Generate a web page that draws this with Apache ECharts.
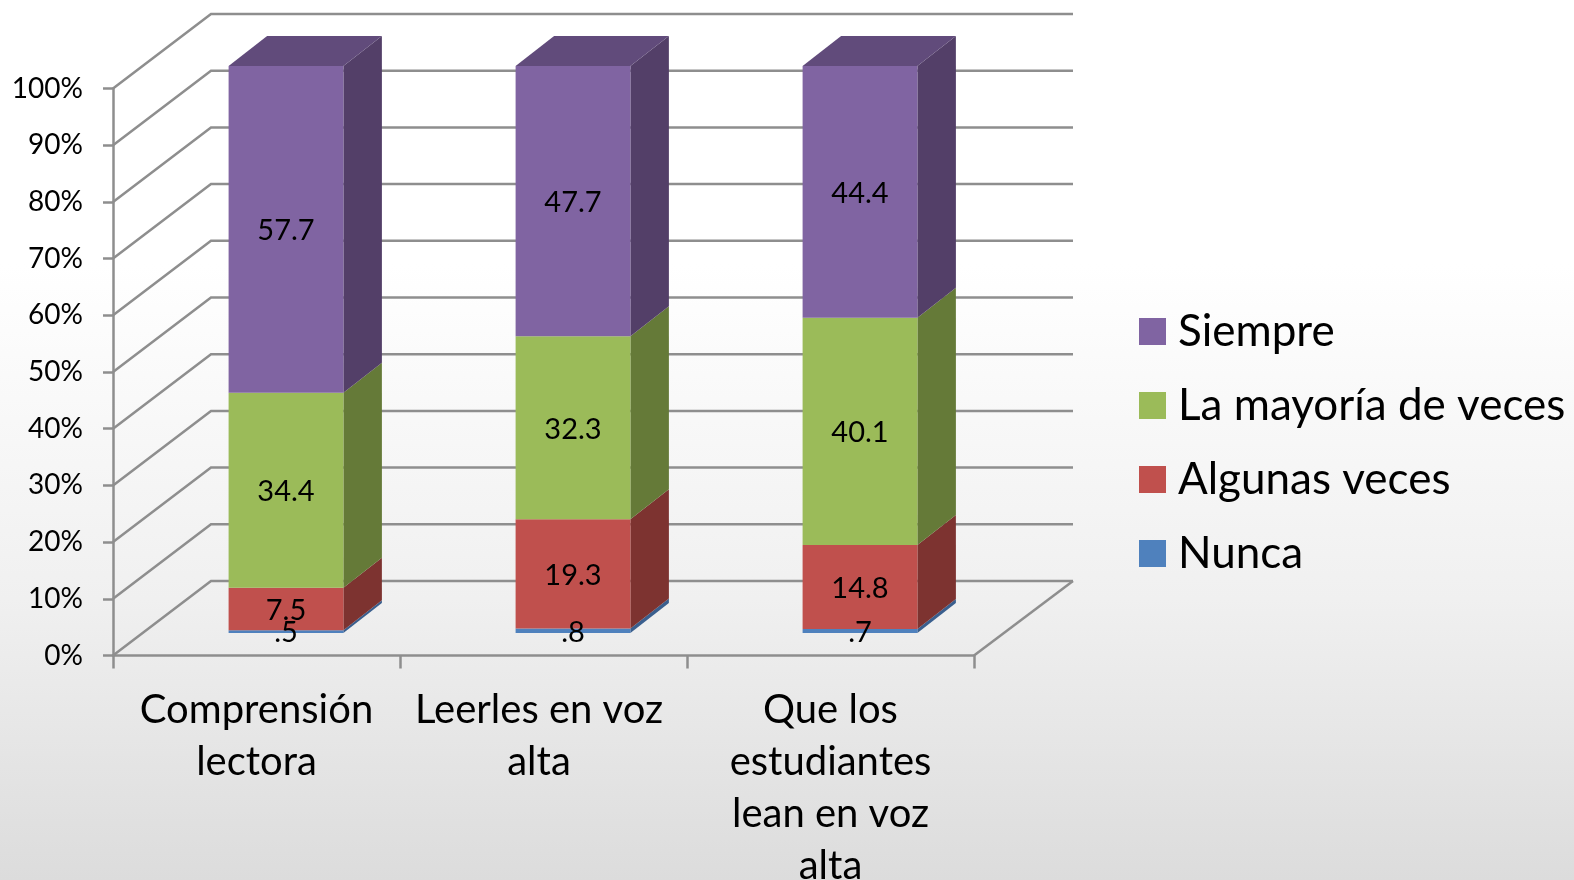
<!DOCTYPE html>
<html>
<head>
<meta charset="utf-8">
<style>html,body{margin:0;padding:0;background:#fff}#c{width:1574px;height:880px}</style>
<script src="https://cdn.jsdelivr.net/npm/echarts@6/dist/echarts.min.js"></script>
</head>
<body>
<div id="c"></div>
<script>
const categories = ['Comprensión\nlectora', 'Leerles en voz\nalta', 'Que los\nestudiantes\nlean en voz\nalta'];
const yTicks = [0, 10, 20, 30, 40, 50, 60, 70, 80, 90, 100];
const nunca = [0.5, 0.8, 0.7];
const algunas = [7.5, 19.3, 14.8];
const mayoria = [34.4, 32.3, 40.1];
const siempre = [57.7, 47.7, 44.4];
const stackOrder = [
  {name: 'Nunca', values: nunca, front: '#4F81BD', side: '#3A5F8E', top: '#3F6797'},
  {name: 'Algunas veces', values: algunas, front: '#C0504D', side: '#7D3330', top: '#9A403D'},
  {name: 'La mayoría de veces', values: mayoria, front: '#9BBB59', side: '#657A38', top: '#7C9647'},
  {name: 'Siempre', values: siempre, front: '#8064A2', side: '#533F68', top: '#614B7B'}
];
const legendOrder = ['Siempre', 'La mayoría de veces', 'Algunas veces', 'Nunca'];

const FONT = 'Lato, "Open Sans", sans-serif';
const GRID = {left: 113, top: 88.5, width: 861, height: 567, outerBoundsMode: 'none', containLabel: false};
const WALL_DX = 98, WALL_DY = 74.5;
const BAR_DX = 29.5, BAR_DY = 22.5, BAR_DEPTH_X = 38.5, BAR_DEPTH_Y = 30;
const BAR_RATIO = 0.4;
const LABEL_DY = 1.5;
const LINE = '#8E8E8E';
const LINE_W = 2.5;

function wallRender(params, api) {
  const t = api.value(1);
  const cs = params.coordSys;
  const y = api.coord([0, t])[1];
  const x0 = cs.x, x1 = cs.x + cs.width;
  const children = [{
    type: 'polyline',
    shape: {points: [[x0, y], [x0 + WALL_DX, y - WALL_DY], [x1 + WALL_DX + 1, y - WALL_DY]]},
    style: {stroke: LINE, lineWidth: LINE_W, fill: null}
  }];
  if (t === 0) {
    children.push({
      type: 'line',
      shape: {x1: x1, y1: y, x2: x1 + WALL_DX + 1, y2: y - WALL_DY},
      style: {stroke: LINE, lineWidth: LINE_W}
    });
  }
  return {type: 'group', children: children};
}

function barRender(level) {
  const s = stackOrder[level];
  return function (params, api) {
    const cat = api.value(0);
    const v = api.value(1);
    const total = stackOrder.reduce((a, k) => a + k.values[cat], 0);
    let below = 0;
    for (let i = 0; i < level; i++) below += stackOrder[i].values[cat];
    const y0 = api.coord([cat, below / total * 100])[1] - BAR_DY;
    const y1 = api.coord([cat, (below + v) / total * 100])[1] - BAR_DY;
    const cx = api.coord([cat, 0])[0] + BAR_DX;
    const w = api.size([1, 0])[0] * BAR_RATIO;
    const xl = cx - w / 2, xr = cx + w / 2;
    const children = [
      {type: 'polygon', shape: {points: [[xr, y0], [xr + BAR_DEPTH_X, y0 - BAR_DEPTH_Y], [xr + BAR_DEPTH_X, y1 - BAR_DEPTH_Y], [xr, y1]]}, style: {fill: s.side}},
      {type: 'rect', shape: {x: xl, y: y1, width: w, height: y0 - y1}, style: {fill: s.front}}
    ];
    if (level === stackOrder.length - 1) {
      children.push({type: 'polygon', shape: {points: [[xl, y1], [xl + BAR_DEPTH_X, y1 - BAR_DEPTH_Y], [xr + BAR_DEPTH_X, y1 - BAR_DEPTH_Y], [xr, y1]]}, style: {fill: s.top}});
    }
    children.push({
      type: 'text', z2: 100,
      style: {
        x: cx, y: (y0 + y1) / 2 + LABEL_DY,
        text: String(v).replace(/^0/, ''),
        fill: '#000', font: '29px ' + FONT,
        align: 'center', verticalAlign: 'middle'
      }
    });
    return {type: 'group', children: children};
  };
}

const chart = echarts.init(document.getElementById('c'), null, {renderer: 'canvas', width: 1574, height: 880});
chart.setOption({
  animation: false,
  backgroundColor: new echarts.graphic.LinearGradient(0, 0, 0, 1, [
    {offset: 0, color: '#FFFFFF'},
    {offset: 0.3, color: '#FFFFFF'},
    {offset: 0.68, color: '#F0F0F0'},
    {offset: 1, color: '#DCDCDC'}
  ]),
  grid: GRID,
  legend: {
    left: 1139, top: 309.5, orient: 'vertical',
    padding: 0,
    selectedMode: false,
    itemWidth: 27, itemHeight: 27, itemGap: 30,
    icon: 'rect',
    data: legendOrder,
    textStyle: {fontFamily: FONT, fontSize: 44, color: '#000', padding: [0, 0, 0, 7]},
    formatter: n => n
  },
  xAxis: {
    type: 'category',
    data: categories.map((c, i) => i === 1 ? {value: c, textStyle: {padding: [0, 9, 0, 0]}} : c),
    boundaryGap: true,
    axisLine: {show: true, lineStyle: {color: LINE, width: LINE_W}},
    axisTick: {show: true, length: 13, lineStyle: {color: LINE, width: LINE_W}},
    axisLabel: {interval: 0, color: '#000', fontFamily: FONT, fontSize: 40, lineHeight: 52, margin: 29, hideOverlap: false},
    splitLine: {show: false}
  },
  yAxis: {
    type: 'value', min: 0, max: 100, interval: 10,
    axisLine: {show: true, lineStyle: {color: LINE, width: LINE_W}},
    axisTick: {show: true, length: 10, lineStyle: {color: LINE, width: LINE_W}},
    axisLabel: {color: '#000', fontFamily: FONT, fontSize: 28, margin: 30, padding: [2, 0, 0, 0], formatter: v => v + '%'},
    splitLine: {show: false}
  },
  series: [
    {
      type: 'custom', name: 'walls', silent: true, clip: false,
      renderItem: wallRender,
      data: yTicks.map(t => [0, t])
    }
  ].concat(stackOrder.map((s, level) => ({
    type: 'custom', name: s.name, silent: true, clip: false,
    itemStyle: {color: s.front},
    renderItem: barRender(level),
    data: s.values.map((v, i) => [i, v])
  })))
});
</script>
</body>
</html>
